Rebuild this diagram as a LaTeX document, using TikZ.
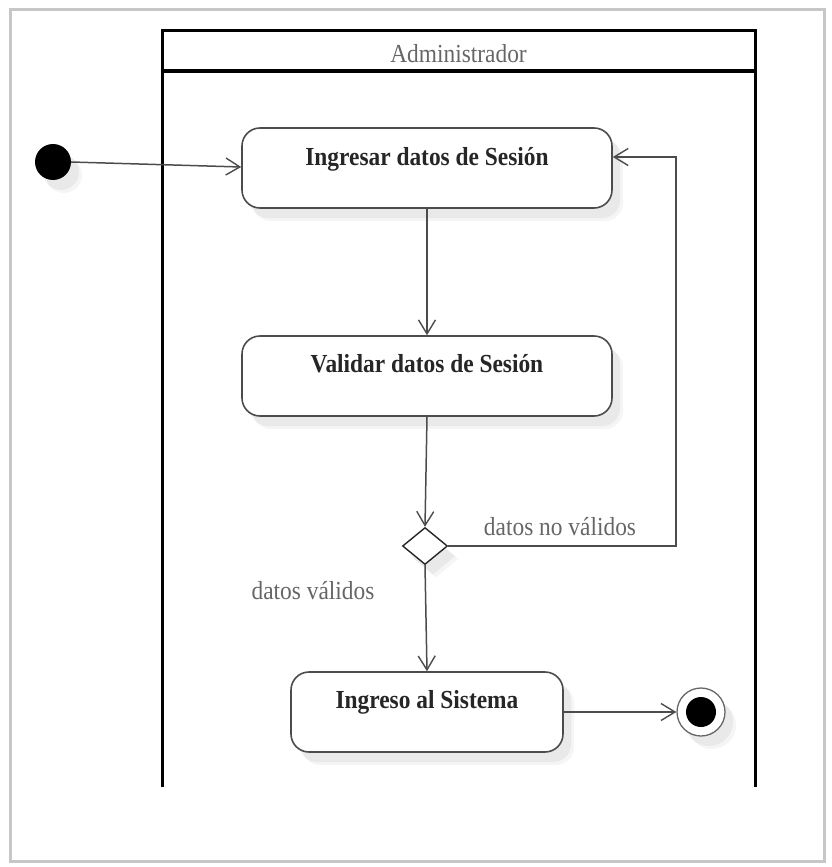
\documentclass[tikz,border=0pt]{standalone}
\usepackage{fontspec}
\setmainfont{Liberation Serif}[FakeStretch=0.9]
\usetikzlibrary{arrows.meta,shapes.geometric}

\tikzset{
  softshadow/.style={
    preaction={fill=black, opacity=0.05, transform canvas={shift={(8pt,-10pt)}}},
    preaction={fill=black, opacity=0.04, transform canvas={shift={(11pt,-13pt)}}}},
  actbox/.style={draw=black!70, line width=1.6pt, rounded corners=18pt, fill=white,
    minimum width=#1, minimum height=80pt, inner sep=0pt, softshadow},
  acttext/.style={font=\fontsize{26}{30}\selectfont\bfseries, text=black!85, anchor=base, inner sep=0pt},
  guard/.style={font=\fontsize{26}{30}\selectfont, text=black!60, anchor=base, inner sep=0pt},
  lane/.style={draw=black, line width=3pt},
  flow/.style={draw=black!70, line width=1.5pt,
    -{Straight Barb[length=14pt,width=17pt,line width=1.4pt]}},
  startnode/.style={circle, fill=black, minimum size=36pt, inner sep=0pt, softshadow},
  decision/.style={diamond, draw=black!85, line width=1.4pt, fill=white, minimum width=45pt,
    minimum height=37pt, inner sep=0pt, softshadow},
  endnode/.style={circle, draw=black!60, line width=1.3pt, fill=white, minimum size=48pt,
    inner sep=0pt, softshadow},
}

\begin{document}
\begin{tikzpicture}[x=1pt,y=-1pt]
  \useasboundingbox (0,0) rectangle (831,867);
  % outer frame
  \draw[black!22, line width=3pt] (10,10) rectangle (824,861);

  % swimlane
  \draw[lane] (162,787) -- (162,31) -- (755,31) -- (755,787);
  \draw[lane] (162,71) -- (755,71);
  \node[guard] (lanetitle) at (458.5,63) {Administrador};

  % activities
  \node[actbox=370pt] (s1) at (427,168) {};
  \node[acttext] (t1) at ([yshift=-38pt]s1.north) {Ingresar datos de Sesión};
  \node[actbox=370pt] (s2) at (427,376) {};
  \node[acttext] (t2) at ([yshift=-37pt]s2.north) {Validar datos de Sesión};
  \node[actbox=272pt] (s3) at (427,712) {};
  \node[acttext] (t3) at ([yshift=-37pt]s3.north) {Ingreso al Sistema};

  % control nodes
  \node[startnode] (init) at (53,162) {};
  \node[decision] (dec) at (425,546) {};
  \node[endnode] (fin) at (701,712) {};
  \node[circle, fill=black, minimum size=30pt, inner sep=0pt] (findot) at (fin.center) {};

  % flows
  \draw[flow] (init.east) -- ([yshift=1pt]s1.west);
  \draw[flow] (s1.south) -- (s2.north);
  \draw[flow] (s2.south) -- (dec.north);
  \draw[flow] (dec.south) -- (s3.north);
  \draw[flow] (s3.east) -- (fin.west);
  \coordinate (loop) at (676,157);
  \draw[flow] (dec.east) -| (loop) -- (loop -| s1.east);

  % guards
  \node[guard] (gno) at (560,535) {datos no válidos};
  \node[guard] (gyes) at (313,599) {datos válidos};
\end{tikzpicture}
\end{document}
